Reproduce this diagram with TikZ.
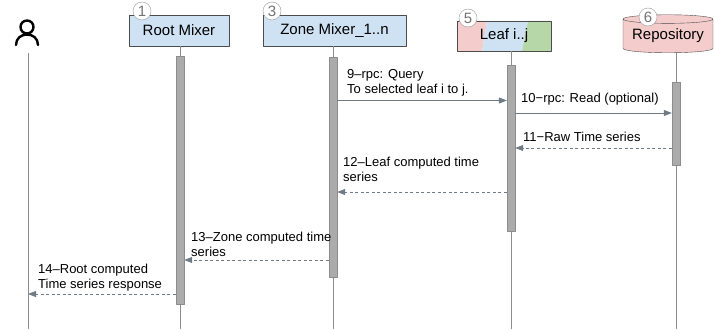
\documentclass[tikz,border=0pt]{standalone}
\usepackage{fontspec}
\setmainfont{Liberation Sans}
\usetikzlibrary{shapes.geometric,arrows.meta}
\definecolor{boxblue}{HTML}{CFE2F3}
\definecolor{boxred}{HTML}{F4CCCC}
\definecolor{boxgreen}{HTML}{B6D7A8}
\definecolor{linegray}{HTML}{8C8C8C}
\definecolor{msggray}{HTML}{6E7B84}
\definecolor{bargray}{HTML}{ABABAB}
\begin{document}
\begin{tikzpicture}[x=1pt,y=-1pt, line join=round,
    part/.style={draw=black!70, fill=boxblue, minimum height=31pt, inner sep=0pt, font=\fontsize{15}{18}\selectfont},
    badge/.style={circle, draw=black!40, fill=white, minimum size=18pt, inner sep=0pt, text=black!55, font=\fontsize{15}{17}\selectfont},
    bar/.style={draw=black!45, fill=bargray, minimum width=8pt, inner sep=0pt},
    life/.style={linegray, line width=.8pt},
    msg/.style={msggray, line width=.8pt, -{Triangle[length=8pt,width=6pt]}},
    reply/.style={msg, dash pattern=on 3pt off 2.5pt},
    lbl/.style={anchor=base west, align=left, inner sep=0pt, font=\fontsize{13}{15}\selectfont}]
    \useasboundingbox (0,0) rectangle (714,329);
    \coordinate (bot) at (0,329);
    % actor
    \draw[line width=2.4pt, line cap=round] (27,27) circle (6.5)
        (16,45) .. controls (16,31) and (38,31) .. (38,45);
    \coordinate (user) at (28,53);
    % participants
    \node[part, minimum width=100pt] (root) at (179,30.5) {Root Mixer};
    \node[part, minimum width=143pt] (zone) at (334.5,30.5) {Zone Mixer\_1..n};
    \fill[boxred] (457,21) -- (487,21) -- (482,51) -- (457,51) -- cycle;
    \fill[boxblue] (487,21) -- (528,21) -- (522,51) -- (482,51) -- cycle;
    \fill[boxgreen] (528,21) -- (551,21) -- (551,51) -- (522,51) -- cycle;
    \node[part, fill=none, minimum width=94pt, minimum height=30pt] (leaf) at (504,36) {Leaf i..j};
    \node[cylinder, shape border rotate=90, aspect=.12, draw=black!70, fill=boxred, minimum width=90pt, minimum height=38pt, inner sep=0pt, font=\fontsize{15}{18}\selectfont] (repo) at (668,36) {Repository};
    \node[badge] (b1) at (142,11) {1};
    \node[badge] (b3) at (272,11) {3};
    \node[badge] (b5) at (468,18) {5};
    \node[badge] (b6) at (648,17) {6};
    % activations
    \node[bar, minimum height=248pt] (rbar) at (180,180) {};
    \node[bar, minimum height=220pt] (zbar) at (333,167) {};
    \node[bar, minimum height=166pt] (lbar) at (511,148) {};
    \node[bar, minimum height=83pt] (pbar) at (676,123.5) {};
    % lifelines
    \draw[life] (user) -- (user |- bot);
    \draw[life] (root.south -| rbar) -- (rbar.north) (rbar.south) -- (rbar |- bot);
    \draw[life] (zone.south -| zbar) -- (zbar.north) (zbar.south) -- (zbar |- bot);
    \draw[life] (leaf.south -| lbar) -- (lbar.north) (lbar.south) -- (lbar |- bot);
    \draw[life] (repo.south -| pbar) -- (pbar.north) (pbar.south) -- (pbar |- bot);
    % messages
    \draw[msg] (zbar.east |- 0,100.5) -- (lbar.west |- 0,100.5);
    \draw[msg] (lbar.east |- 0,113) -- (pbar.west |- 0,113);
    \draw[reply] (pbar.west |- 0,148) -- (lbar.east |- 0,148);
    \draw[reply] (lbar.west |- 0,192) -- (zbar.east |- 0,192);
    \draw[reply] (zbar.west |- 0,260) -- (rbar.east |- 0,260);
    \draw[reply] (rbar.west |- 0,294) -- (user |- 0,294);
    \node[lbl] (l9) at (347,93) {9–rpc: Query\\To selected leaf i to j.};
    \node[lbl] (l10) at (521,102.5) {10−rpc: Read (optional)};
    \node[lbl] (l11) at (523,141.5) {11−Raw Time series};
    \node[lbl] (l12) at (343,181.5) {12–Leaf computed time\\series};
    \node[lbl] (l13) at (191,256.5) {13–Zone computed time\\series};
    \node[lbl] (l14) at (38,288.5) {14–Root computed\\Time series response};
\end{tikzpicture}
\end{document}
